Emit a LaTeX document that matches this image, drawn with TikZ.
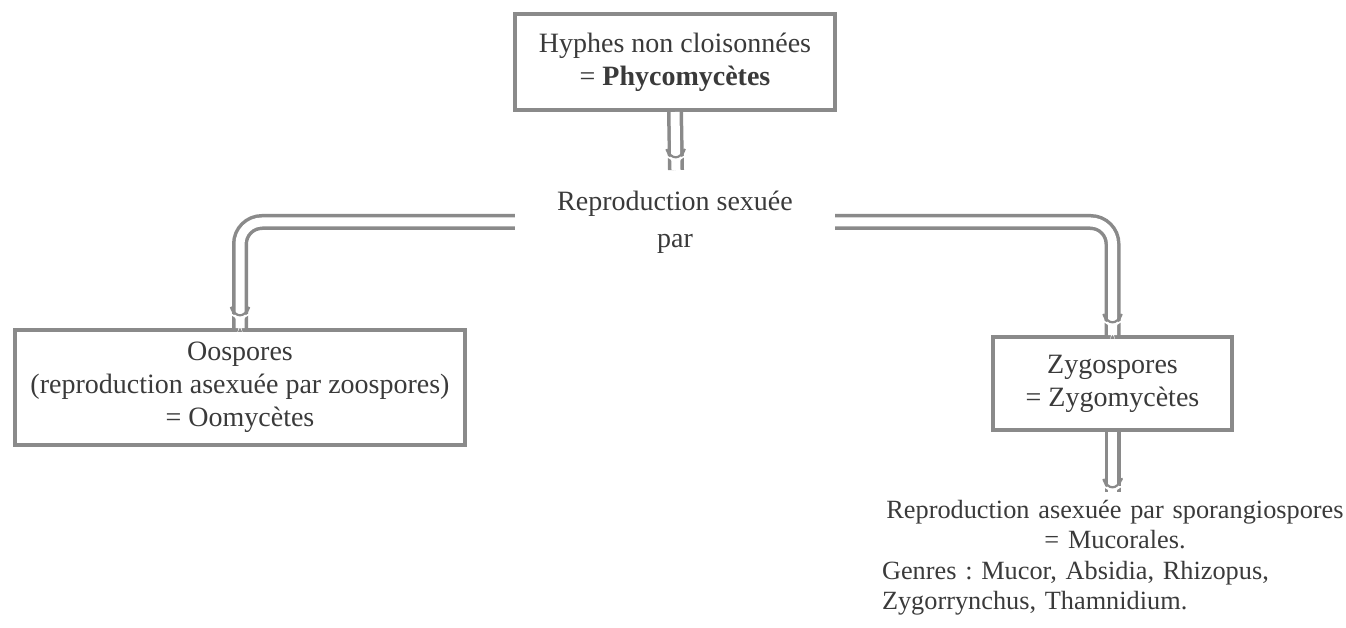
\documentclass[tikz,border=0pt]{standalone}
\usepackage{fontspec}
\setmainfont{Liberation Serif}
\usetikzlibrary{decorations.markings}
\definecolor{ink}{HTML}{3A3A3A}
\definecolor{frame}{HTML}{8A8A8A}
\frenchspacing
\tikzset{
  box/.style={draw=frame, line width=4pt, text=ink, align=center, inner sep=0pt,
    font=\fontsize{28}{33}\selectfont},
  lbl/.style={text=ink, align=center, inner sep=0pt, font=\fontsize{28}{37}\selectfont},
  arr/.style={draw=frame, line width=3.5pt, double=white, double distance=9pt,
    rounded corners=22pt, postaction={decorate},
    decoration={markings, mark=at position 1 with {
      \fill[white] (-14pt,-6pt) -- (-1pt,0pt) -- (-14pt,6pt) -- cycle;
      \draw[frame, line width=2.2pt, line cap=round] (-14pt,-6pt) -- (-1pt,0pt) -- (-14pt,6pt);}}},
}
\begin{document}
\begin{tikzpicture}[x=1pt,y=-1pt]
\useasboundingbox (0,0) rectangle (1346,628);
\node[box, minimum width=320pt, minimum height=96pt] (top) at (675,62)
  {Hyphes non cloisonnées\\= \textbf{Phycomycètes}};
\node[lbl, minimum width=320pt] (rsp) at (675,222) {Reproduction sexuée\\par};
\coordinate (rtop) at (676,170);
\node[box, minimum width=450pt, minimum height=115pt] (oo) at (240,387.5)
  {Oospores\\(reproduction asexuée par zoospores)\\= Oomycètes};
\node[box, minimum width=239pt, minimum height=93pt] (zy) at (1112.5,383.5)
  {Zygospores\\= Zygomycètes};
\node[text=ink, inner sep=0pt, text width=466pt, anchor=north,
  font=\fontsize{26.3}{30.5}\selectfont] (muc) at (1115,500)
  {\centering Reproduction asexuée par sporangiospores\\= Mucorales.\par
   \raggedright Genres : Mucor, Absidia, Rhizopus,\\Zygorrynchus, Thamnidium.\par};
\draw[arr] (top.south) -- (rtop);
\draw[arr] (rsp.west) -| (oo.north);
\draw[arr] (rsp.east) -| (zy.north);
\draw[arr, shorten >=8pt] (zy.south) -- (zy.south |- muc.north);
\end{tikzpicture}
\end{document}
